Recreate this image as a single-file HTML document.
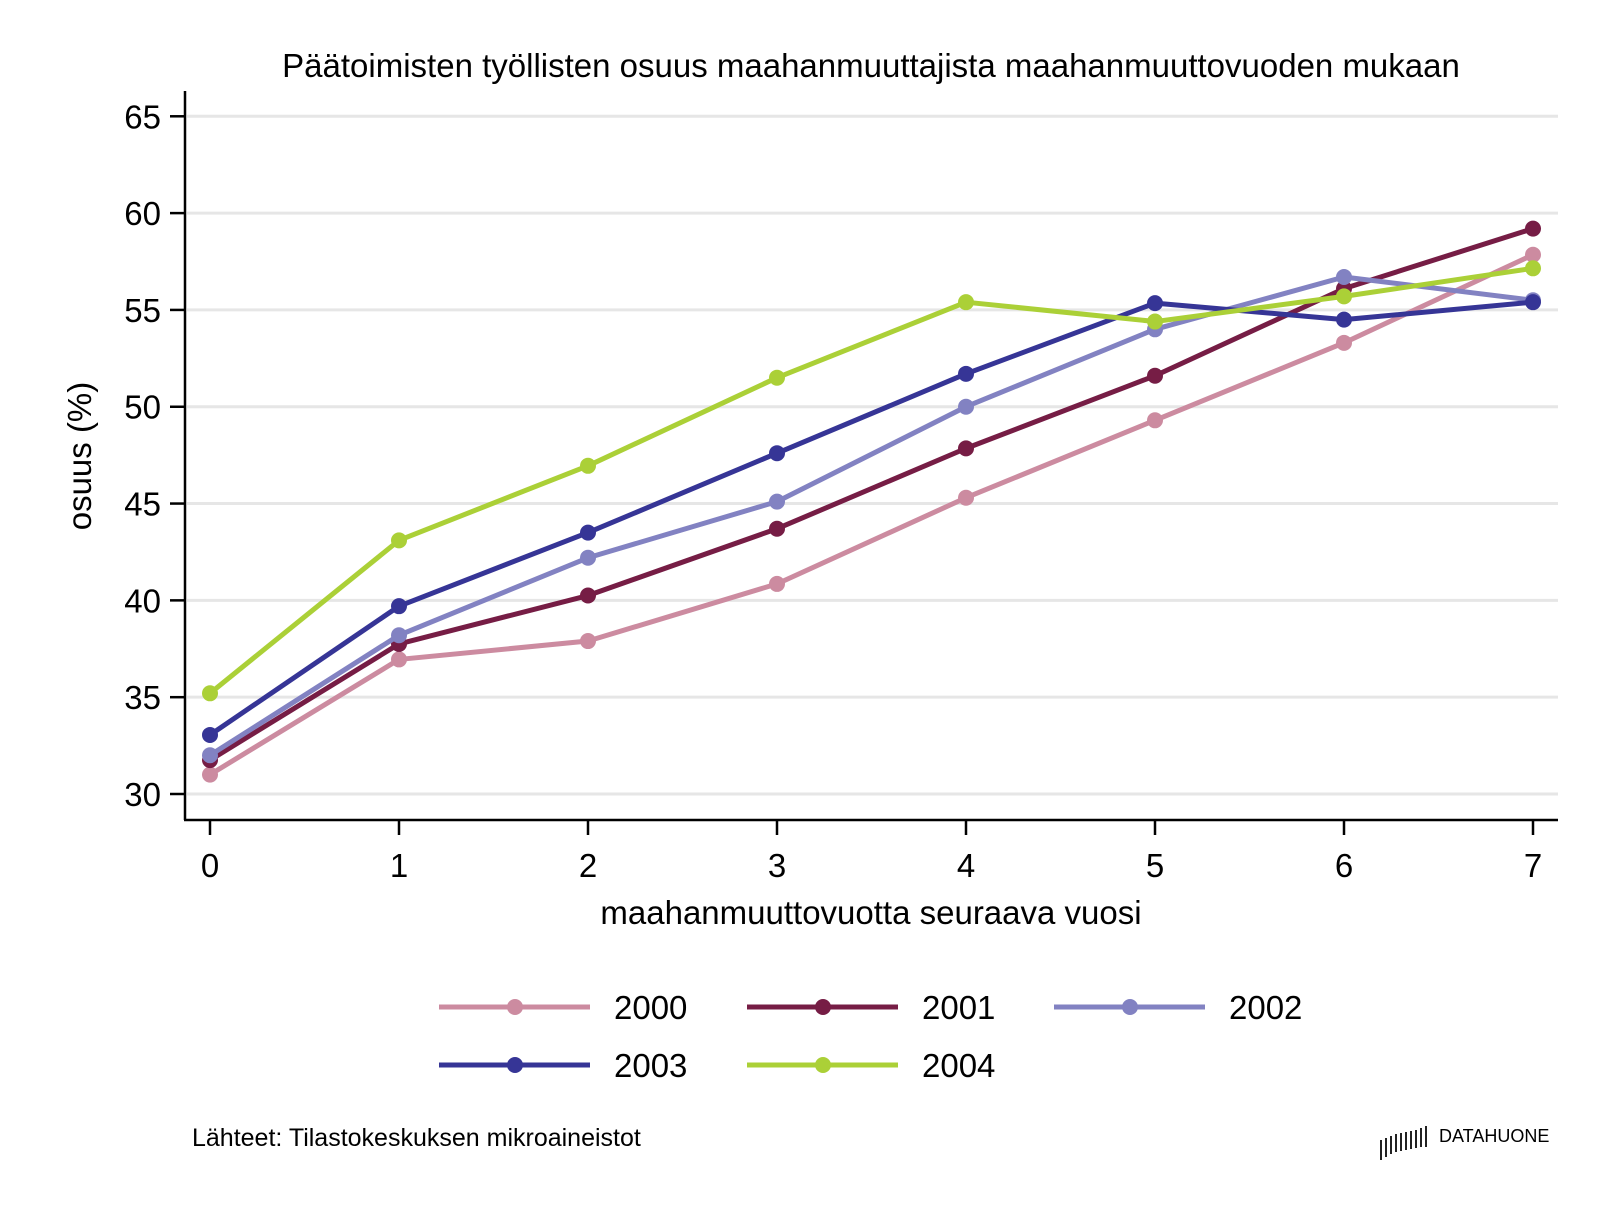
<!DOCTYPE html>
<html><head><meta charset="utf-8"><style>
html,body{margin:0;padding:0;background:#fff}
svg text{font-family:"Liberation Sans",Arial,sans-serif;fill:#000}
</style></head><body>
<svg id="s" width="1600" height="1200" viewBox="0 0 1600 1200" xmlns="http://www.w3.org/2000/svg">
<rect width="1600" height="1200" fill="#fff"/>
<g id="grid" stroke="#e6e6e6" stroke-width="3"></g>
<g id="axes" stroke="#000" stroke-width="2.5">
<line x1="185" y1="91" x2="185" y2="820"/>
<line x1="184" y1="820" x2="1558" y2="820"/>
</g>
<g id="ticks"></g>
<text x="871" y="77" font-size="33" text-anchor="middle">Päätoimisten työllisten osuus maahanmuuttajista maahanmuuttovuoden mukaan</text>
<text x="871" y="924" font-size="33" text-anchor="middle">maahanmuuttovuotta seuraava vuosi</text>
<text transform="translate(91,456) rotate(-90)" font-size="33" text-anchor="middle">osuus (%)</text>
<g id="series"></g>
<g id="legend"></g>
<text x="192" y="1146" font-size="25">Lähteet: Tilastokeskuksen mikroaineistot</text>
<g stroke="#222" stroke-width="2">
<line x1="1381" y1="1140" x2="1381" y2="1160"/><line x1="1386" y1="1138" x2="1386" y2="1157"/>
<line x1="1391" y1="1136" x2="1391" y2="1154"/><line x1="1396" y1="1134" x2="1396" y2="1152"/>
<line x1="1401" y1="1133" x2="1401" y2="1151"/><line x1="1406" y1="1132" x2="1406" y2="1150"/>
<line x1="1411" y1="1131" x2="1411" y2="1149"/><line x1="1416" y1="1130" x2="1416" y2="1148"/>
<line x1="1421" y1="1128" x2="1421" y2="1147"/><line x1="1426" y1="1126" x2="1426" y2="1147"/>
</g>
<text x="1439" y="1142" font-size="18">DATAHUONE</text>
</svg>
<script>
var NS="http://www.w3.org/2000/svg";
function el(p,t,a,txt){var e=document.createElementNS(NS,t);for(var k in a)e.setAttribute(k,a[k]);if(txt!==undefined)e.textContent=txt;document.getElementById(p).appendChild(e);return e;}
function X(i){return 210+189*i;}
function Y(v){return 794-(v-30)*19.363;}
for(var v=30;v<=65;v+=5){var y=Y(v);
el("grid","line",{x1:187,y1:y,x2:1558,y2:y});
el("ticks","line",{x1:170,y1:y,x2:185,y2:y,stroke:"#000","stroke-width":2.5});
el("ticks","text",{x:161,y:y+12,"font-size":33,"text-anchor":"end"},v);}
for(var i=0;i<8;i++){el("ticks","line",{x1:X(i),y1:820,x2:X(i),y2:835,stroke:"#000","stroke-width":2.5});
el("ticks","text",{x:X(i),y:877,"font-size":33,"text-anchor":"middle"},i);}
var S=[
["2000","#cc8ba0",[31.0,36.95,37.9,40.85,45.3,49.3,53.3,57.85]],
["2001","#761d45",[31.75,37.75,40.25,43.7,47.85,51.6,56.1,59.2]],
["2002","#8282c2",[32.0,38.2,42.2,45.1,50.0,54.0,56.7,55.5]],
["2003","#363596",[33.05,39.7,43.5,47.6,51.7,55.35,54.5,55.4]],
["2004","#abd037",[35.2,43.1,46.95,51.5,55.4,54.4,55.7,57.15]]];
S.forEach(function(s){var pts=s[2].map(function(v,i){return X(i)+","+Y(v);}).join(" ");
el("series","polyline",{points:pts,fill:"none",stroke:s[1],"stroke-width":5,"stroke-linejoin":"round"});
s[2].forEach(function(v,i){el("series","circle",{cx:X(i),cy:Y(v),r:8,fill:s[1]});});});
var L=[[439,1007],[747,1007],[1054,1007],[439,1065],[747,1065]];
S.forEach(function(s,k){var x=L[k][0],y=L[k][1];
el("legend","line",{x1:x,y1:y,x2:x+151,y2:y,stroke:s[1],"stroke-width":5});
el("legend","circle",{cx:x+76,cy:y,r:8,fill:s[1]});
el("legend","text",{x:x+175,y:y+12,"font-size":33},s[0]);});
</script>
</body></html>
